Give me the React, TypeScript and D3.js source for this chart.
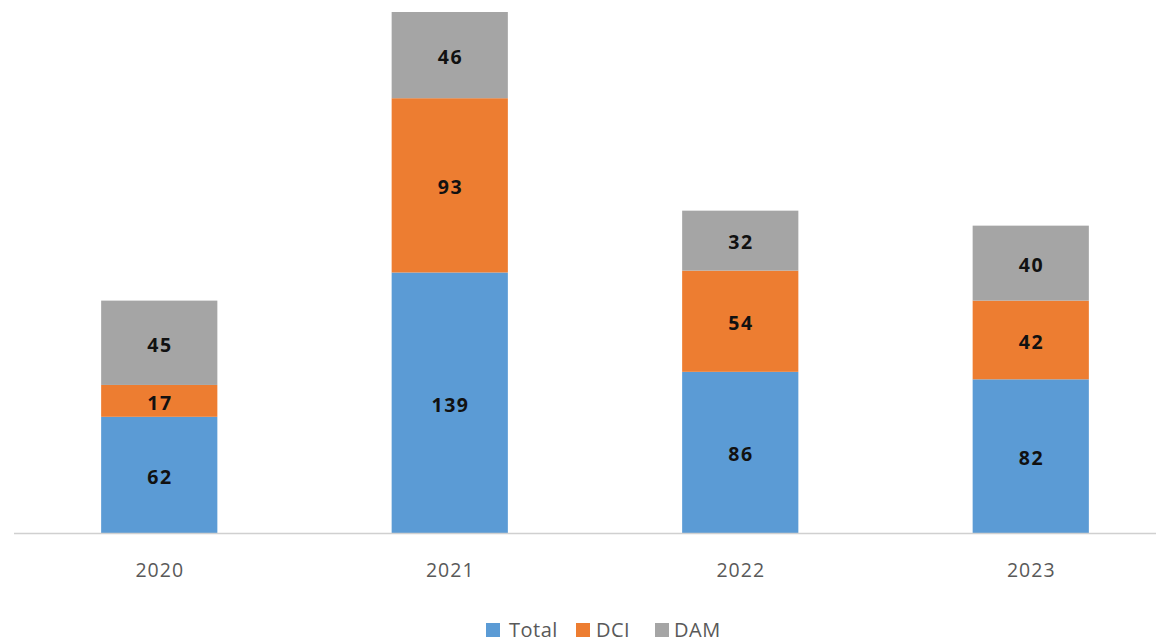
import React from "react";
import * as d3 from "d3";

const years = ["2020", "2021", "2022", "2023"];
const seriesNames = ["Total", "DCI", "DAM"];
const totalValues = [62, 139, 86, 82];
const dciValues = [17, 93, 54, 42];
const damValues = [45, 46, 32, 40];
const colors = ["#5B9BD5", "#ED7D31", "#A5A5A5"];

const W = 1156;
const H = 644;

export default function App() {
  const rows = years.map((y, i) => ({
    year: y,
    Total: totalValues[i],
    DCI: dciValues[i],
    DAM: damValues[i],
  }));
  const stack = d3.stack<any>().keys(seriesNames)(rows);
  const maxV = d3.max(rows, (r) => r.Total + r.DCI + r.DAM) as number;
  const x = d3.scaleBand<string>().domain(years).range([14, 1176]).paddingInner(0.6).paddingOuter(0.3);
  const y = d3.scaleLinear().domain([0, maxV]).range([533, 12]);
  const font = "'Open Sans', 'DejaVu Sans', sans-serif";

  const legendItems = [
    { name: "Total", x: 486, tx: 509 },
    { name: "DCI", x: 576, tx: 596 },
    { name: "DAM", x: 655, tx: 674 },
  ];

  return (
    <svg width={W} height={H} style={{ position: "absolute", left: 0, top: 0, background: "#fff" }}>
      <rect x={0} y={0} width={W} height={H} fill="#fff" />
      {stack.map((s, si) =>
        s.map((d, i) => (
          <g key={`${si}-${i}`}>
            <rect
              x={x(years[i])}
              y={y(d[1])}
              width={x.bandwidth()}
              height={y(d[0]) - y(d[1])}
              fill={colors[si]}
            />
            <text
              x={(x(years[i]) as number) + x.bandwidth() / 2 + 0.75}
              y={(y(d[0]) + y(d[1])) / 2 + 2}
              dy="0.35em"
              textAnchor="middle"
              fontFamily={font}
              fontWeight="bold"
              fontSize={19.5}
              letterSpacing={1.5}
              fill="#111"
            >
              {d[1] - d[0]}
            </text>
          </g>
        ))
      )}
      <line x1={14} x2={W} y1={533.5} y2={533.5} stroke="#D0D0D0" strokeWidth={1.5} />
      {years.map((yr) => (
        <text
          key={yr}
          x={(x(yr) as number) + x.bandwidth() / 2 + 0.5}
          y={570}
          dy="0.35em"
          textAnchor="middle"
          fontFamily={font}
          fontSize={19.5}
          letterSpacing={1}
          fill="#595959"
        >
          {yr}
        </text>
      ))}
      {legendItems.map((it, i) => (
        <g key={it.name}>
          <rect x={it.x} y={623} width={14} height={14} fill={colors[i]} />
          <text x={it.tx} y={630} dy="0.35em" fontFamily={font} fontSize={20} letterSpacing={0.5} fill="#595959">
            {it.name}
          </text>
        </g>
      ))}
    </svg>
  );
}
